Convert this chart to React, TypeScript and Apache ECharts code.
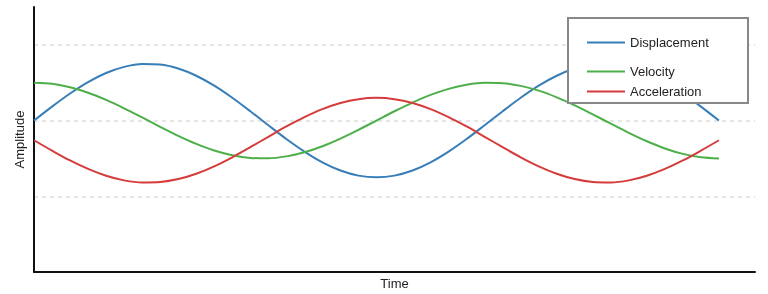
import React, { useEffect, useRef } from "react";
import * as echarts from "echarts";

const seriesNames = ["Displacement", "Velocity", "Acceleration"];
const colors = ["#377eb8", "#4daf4a", "#d63b3b"];

const time = [
  0, 0.25, 0.5, 0.75, 1, 1.25, 1.5, 1.75, 2, 2.25, 2.5, 2.75, 3, 3.25, 3.5, 3.75, 4, 4.25, 4.5, 4.75,
  5, 5.25, 5.5, 5.75, 6, 6.25, 6.5, 6.75, 7, 7.25, 7.5, 7.75, 8, 8.25, 8.5, 8.75, 9, 9.25, 9.5,
];

const displacement = [
  0, 0.184, 0.357, 0.508, 0.628, 0.709, 0.747, 0.74, 0.687, 0.592, 0.461, 0.301, 0.123, -0.062, -0.244,
  -0.41, -0.552, -0.66, -0.727, -0.75, -0.727, -0.66, -0.552, -0.41, -0.244, -0.062, 0.123, 0.301, 0.461,
  0.592, 0.687, 0.74, 0.747, 0.709, 0.628, 0.508, 0.357, 0.184, 0,
];

const velocity = [
  0.5, 0.485, 0.44, 0.368, 0.273, 0.162, 0.041, -0.082, -0.201, -0.307, -0.395, -0.458, -0.493, -0.498,
  -0.473, -0.419, -0.339, -0.238, -0.123, 0, 0.123, 0.238, 0.339, 0.419, 0.473, 0.498, 0.493, 0.458,
  0.395, 0.307, 0.201, 0.082, -0.041, -0.162, -0.273, -0.368, -0.44, -0.485, -0.5,
];

const acceleration = [
  -0.26, -0.397, -0.527, -0.639, -0.729, -0.79, -0.818, -0.812, -0.773, -0.702, -0.604, -0.485, -0.352,
  -0.214, -0.078, 0.046, 0.152, 0.233, 0.283, 0.3, 0.283, 0.233, 0.152, 0.046, -0.078, -0.214, -0.352,
  -0.485, -0.604, -0.702, -0.773, -0.812, -0.818, -0.79, -0.729, -0.639, -0.527, -0.397, -0.26,
];

const yTicks = { min: -2, max: 1.5, interval: 1 };
const xRange = { min: 0, max: 10 };

const FONT = "'Liberation Sans', Arial, sans-serif";

export default function App() {
  const ref = useRef<HTMLDivElement>(null);
  useEffect(() => {
    if (!ref.current) return;
    const chart = echarts.init(ref.current, undefined, { renderer: "svg" });
    const values = [displacement, velocity, acceleration];
    const legendTops = [31, 60, 80];
    chart.setOption({
      animation: false,
      textStyle: { fontFamily: FONT },
      grid: { left: 34, right: 13, top: 7, bottom: 22, containLabel: false, outerBoundsMode: "none" },
      xAxis: {
        type: "value",
        min: xRange.min,
        max: xRange.max,
        name: "Time",
        nameLocation: "middle",
        nameGap: 5,
        nameTextStyle: { color: "#222", fontSize: 13, fontFamily: FONT },
        axisLine: { show: true, onZero: false, lineStyle: { color: "#111", width: 2 } },
        axisTick: { show: false },
        axisLabel: { show: false },
        splitLine: { show: false },
      },
      yAxis: {
        type: "value",
        min: yTicks.min,
        max: yTicks.max,
        interval: yTicks.interval,
        name: "Amplitude",
        nameLocation: "middle",
        nameGap: 8,
        nameTextStyle: { color: "#222", fontSize: 13, fontFamily: FONT },
        axisLine: { show: true, lineStyle: { color: "#111", width: 2 } },
        axisTick: { show: false },
        axisLabel: { show: false },
        splitLine: {
          show: true,
          showMinLine: false,
          showMaxLine: false,
          lineStyle: { color: "#dddddd", width: 1.5, type: [4, 4] },
        },
      },
      legend: seriesNames.map((n, i) => ({
        data: [n],
        left: 582,
        top: legendTops[i],
        icon: "rect",
        itemWidth: 38,
        itemHeight: 2,
        z: 20,
        textStyle: { color: "#222", fontSize: 13, fontFamily: FONT },
        selectedMode: false,
      })),
      graphic: [
        {
          type: "rect",
          z: 10,
          shape: { x: 568, y: 18, width: 180, height: 85 },
          style: { fill: "#fff", stroke: "#888", lineWidth: 2 },
        },
      ],
      series: seriesNames.map((n, i) => ({
        name: n,
        type: "line",
        data: time.map((t, j) => [t, values[i][j]]),
        smooth: 0.3,
        showSymbol: false,
        symbol: "none",
        lineStyle: { color: colors[i], width: 2 },
        itemStyle: { color: colors[i] },
        z: 2,
      })),
    });
    return () => chart.dispose();
  }, []);
  return <div ref={ref} style={{ position: "fixed", left: 0, top: 0, width: 768, height: 294 }} />;
}
